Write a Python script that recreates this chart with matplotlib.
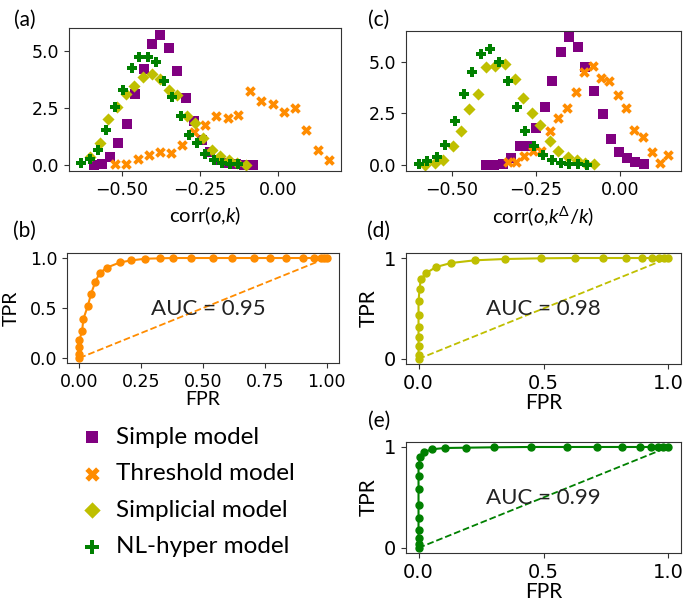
import numpy as np
import matplotlib
matplotlib.use('Agg')
import matplotlib.pyplot as plt
from matplotlib.ticker import MultipleLocator

plt.rcParams['mathtext.fontset'] = 'custom'
plt.rcParams['mathtext.rm'] = 'Lato'
plt.rcParams['mathtext.it'] = 'Lato:italic'
plt.rcParams['axes.edgecolor'] = '#333333'
plt.rcParams['xtick.color'] = '#333333'
plt.rcParams['ytick.color'] = '#333333'
plt.rcParams['xtick.labelcolor'] = 'black'
plt.rcParams['ytick.labelcolor'] = 'black'

label_font = 'Lato'

#-------------------- distributions of corr(o,k) --------------------
simple_a_x = [-0.589, -0.562, -0.536, -0.512, -0.483, -0.457, -0.428, -0.402, -0.376, -0.348,
              -0.323, -0.295, -0.270, -0.245, -0.217, -0.191, -0.164, -0.135, -0.109, -0.082]
simple_a_y = [0.0, 0.03, 0.35, 0.94, 1.79, 3.12, 4.22, 5.32, 5.72, 5.13,
              4.10, 2.94, 1.91, 1.09, 0.54, 0.21, 0.06, 0.03, 0.0, 0.0]

thresh_a_x = [-0.520, -0.485, -0.449, -0.412, -0.377, -0.341, -0.306, -0.270, -0.234, -0.198,
              -0.162, -0.128, -0.092, -0.055, -0.019, 0.017, 0.053, 0.089, 0.126, 0.160]
thresh_a_y = [0.03, 0.03, 0.25, 0.40, 0.54, 0.50, 0.88, 1.43, 1.74, 2.12,
              2.04, 2.16, 3.24, 2.79, 2.68, 2.31, 2.49, 1.50, 0.62, 0.18]

simplicial_a_x = [-0.599, -0.570, -0.543, -0.515, -0.487, -0.460, -0.432, -0.404, -0.378, -0.349,
                  -0.322, -0.293, -0.267, -0.239, -0.213, -0.186, -0.158, -0.131, -0.103]
simplicial_a_y = [0.35, 0.94, 1.99, 2.53, 3.12, 3.44, 3.85, 3.97, 3.75, 3.29,
                  3.04, 2.12, 1.82, 1.18, 0.66, 0.37, 0.21, 0.07, 0.0]

nlhyper_a_x = [-0.628, -0.601, -0.575, -0.549, -0.521, -0.496, -0.468, -0.443, -0.417, -0.390,
               -0.365, -0.339, -0.311, -0.285, -0.258, -0.233, -0.207, -0.180, -0.154, -0.129]
nlhyper_a_y = [0.07, 0.25, 0.62, 1.50, 2.53, 3.29, 4.25, 4.71, 4.74, 4.51,
               3.68, 2.97, 2.12, 1.31, 0.94, 0.47, 0.21, 0.06, 0.03, 0.03]

#-------------------- distributions of corr(o,k^D/k) --------------------
simple_c_x = [-0.398, -0.374, -0.349, -0.324, -0.299, -0.275, -0.250, -0.225, -0.202, -0.176,
              -0.151, -0.126, -0.104, -0.077, -0.052, -0.028, -0.003, 0.020, 0.043, 0.069]
simple_c_y = [0.0, 0.0, 0.03, 0.33, 0.90, 0.90, 1.79, 2.83, 4.10, 5.49,
              6.22, 5.77, 4.79, 3.62, 2.48, 1.25, 0.64, 0.33, 0.11, 0.03]

thresh_c_x = [-0.334, -0.311, -0.285, -0.260, -0.235, -0.209, -0.184, -0.158, -0.133, -0.109,
              -0.082, -0.057, -0.033, -0.008, 0.017, 0.042, 0.067, 0.093, 0.118, 0.143]
thresh_c_y = [0.11, 0.11, 0.44, 0.65, 0.68, 1.66, 2.28, 2.75, 3.53, 4.51,
              4.80, 4.22, 4.07, 3.40, 2.75, 1.69, 1.37, 0.60, 0.08, 0.47]

simplicial_c_x = [-0.579, -0.551, -0.525, -0.497, -0.472, -0.448, -0.423, -0.398, -0.372, -0.342,
                  -0.314, -0.290, -0.263, -0.237, -0.210, -0.184, -0.156, -0.129, -0.104, -0.077]
simplicial_c_y = [0.0, 0.07, 0.24, 0.90, 1.66, 2.72, 3.45, 4.76, 4.84, 4.92,
                  4.19, 3.26, 2.52, 1.94, 1.17, 0.68, 0.36, 0.24, 0.08, 0.03]

nlhyper_c_x = [-0.599, -0.573, -0.545, -0.519, -0.492, -0.465, -0.439, -0.413, -0.386, -0.360,
               -0.334, -0.307, -0.282, -0.255, -0.229, -0.204, -0.177, -0.151, -0.125, -0.099]
nlhyper_c_y = [0.03, 0.16, 0.36, 0.96, 2.15, 3.45, 4.54, 5.41, 5.65, 5.00,
               4.07, 2.83, 1.63, 0.93, 0.47, 0.23, 0.08, 0.03, 0.03, 0.0]

#-------------------- ROC curves --------------------
fpr_b = [0, 0, 0, 0, 0.011, 0.016, 0.034, 0.047, 0.064, 0.082, 0.112, 0.164, 0.209, 0.266,
         0.326, 0.380, 0.450, 0.539, 0.618, 0.707, 0.770, 0.834, 0.905, 0.950, 0.977, 0.990, 1.0]
tpr_b = [0, 0.04, 0.11, 0.18, 0.27, 0.39, 0.52, 0.64, 0.76, 0.85, 0.905, 0.956, 0.976, 0.993,
         0.997, 1.0, 1.0, 1.0, 1.0, 1.0, 1.0, 1.0, 1.0, 1.0, 1.0, 1.0, 1.0]
auc_b = 0.95

fpr_d = [0, 0, 0, 0, 0, 0, 0, 0.004, 0.009, 0.031, 0.069, 0.129, 0.224, 0.344, 0.489,
         0.625, 0.740, 0.829, 0.896, 0.936, 0.964, 0.983, 1.0]
tpr_d = [0, 0.04, 0.13, 0.22, 0.32, 0.44, 0.57, 0.69, 0.79, 0.85, 0.91, 0.95, 0.977, 0.99, 0.997,
         1.0, 1.0, 1.0, 1.0, 1.0, 1.0, 1.0, 1.0]
auc_d = 0.98

fpr_e = [0, 0, 0, 0, 0, 0, 0, 0, 0, 0.007, 0.023, 0.053, 0.104, 0.189, 0.303, 0.448,
         0.593, 0.715, 0.813, 0.888, 0.931, 0.960, 0.980, 1.0]
tpr_e = [0, 0.04, 0.10, 0.18, 0.30, 0.43, 0.58, 0.71, 0.82, 0.90, 0.95, 0.977, 0.99, 0.993,
         0.997, 1.0, 1.0, 1.0, 1.0, 1.0, 1.0, 1.0, 1.0, 1.0]
auc_e = 0.99

model_names = ['Simple model', 'Threshold model', 'Simplicial model', 'NL-hyper model']
model_colors = ['purple', 'darkorange', 'y', 'green']
model_markers = ['s', 'X', 'D', 'P']
marker_area = [42, 58, 38, 58]

#-------------------- figure --------------------
fig = plt.figure(figsize=(6.84, 6.03), dpi=100)
ax_a = fig.add_axes([0.1009, 0.7164, 0.3977, 0.2371])
ax_c = fig.add_axes([0.5936, 0.7164, 0.4020, 0.2322])
ax_b = fig.add_axes([0.0980, 0.3980, 0.3977, 0.1824])
ax_d = fig.add_axes([0.5936, 0.3964, 0.4020, 0.1841])
ax_e = fig.add_axes([0.5936, 0.0830, 0.4020, 0.1841])

hist_a = [(simple_a_x, simple_a_y), (thresh_a_x, thresh_a_y),
          (simplicial_a_x, simplicial_a_y), (nlhyper_a_x, nlhyper_a_y)]
hist_c = [(simple_c_x, simple_c_y), (thresh_c_x, thresh_c_y),
          (simplicial_c_x, simplicial_c_y), (nlhyper_c_x, nlhyper_c_y)]

handles = []
for ax, series in [(ax_a, hist_a), (ax_c, hist_c)]:
    for (x, y), col, mk, sz, name in zip(series, model_colors, model_markers, marker_area, model_names):
        h = ax.scatter(x, y, s=sz, color=col, marker=mk, label=name, linewidths=0)
        if ax is ax_a:
            handles.append(h)
    ax.xaxis.set_major_locator(MultipleLocator(0.25))
    ax.yaxis.set_major_locator(MultipleLocator(2.5))
    ax.tick_params(labelsize=12.5)

ax_a.set_xlabel('corr($o$,$k$)', fontsize=14.5, family=label_font)
ax_c.set_xlabel('corr($o$,$k^{\\Delta}/k$)', fontsize=14.5, family=label_font)

def roc_panel(ax, fpr, tpr, auc, col, tick_size, lab_size, ax_b_style):
    ax.plot(fpr, tpr, '-o', color=col, markersize=5, linewidth=1.5)
    ax.plot([0, 1], [0, 1], '--', color=col, linewidth=1.3)
    ax.text(0.5, 0.49, 'AUC = %.2f' % auc, ha='center', va='center',
            fontsize=16, family=label_font, color='#222222')
    if ax_b_style:
        ax.xaxis.set_major_locator(MultipleLocator(0.25))
        ax.yaxis.set_major_locator(MultipleLocator(0.5))
    else:
        ax.set_xticks([0, 0.5, 1.0])
        ax.set_yticks([0, 1])
        ax.set_yticklabels(['0', '1'])
    ax.tick_params(labelsize=tick_size)
    ax.set_xlabel('FPR', fontsize=lab_size, family=label_font, labelpad=0)
    ax.set_ylabel('TPR', fontsize=lab_size, family=label_font)

roc_panel(ax_b, fpr_b, tpr_b, auc_b, 'darkorange', 12.5, 14, True)
roc_panel(ax_d, fpr_d, tpr_d, auc_d, 'y', 14, 15, False)
roc_panel(ax_e, fpr_e, tpr_e, auc_e, 'green', 14, 15, False)
ax_b.texts[0].set_position((0.52, 0.49))
ax_b.yaxis.set_label_coords(-0.175, 0.5)

for lab, x, y in [('(a)', 0.037, 0.967), ('(c)', 0.553, 0.967), ('(b)', 0.035, 0.617),
                  ('(d)', 0.554, 0.617), ('(e)', 0.554, 0.302)]:
    fig.text(x, y, lab, ha='center', va='center', fontsize=15, family=label_font)

fig.legend(handles=handles, loc='center left', bbox_to_anchor=(0.117, 0.1840),
           frameon=False, prop={'family': label_font, 'size': 17.5},
           handlelength=1.0, handletextpad=0.5, labelspacing=0.64,
           borderpad=0, borderaxespad=0, markerscale=1.35)

fig.savefig('out.png', dpi=100)
